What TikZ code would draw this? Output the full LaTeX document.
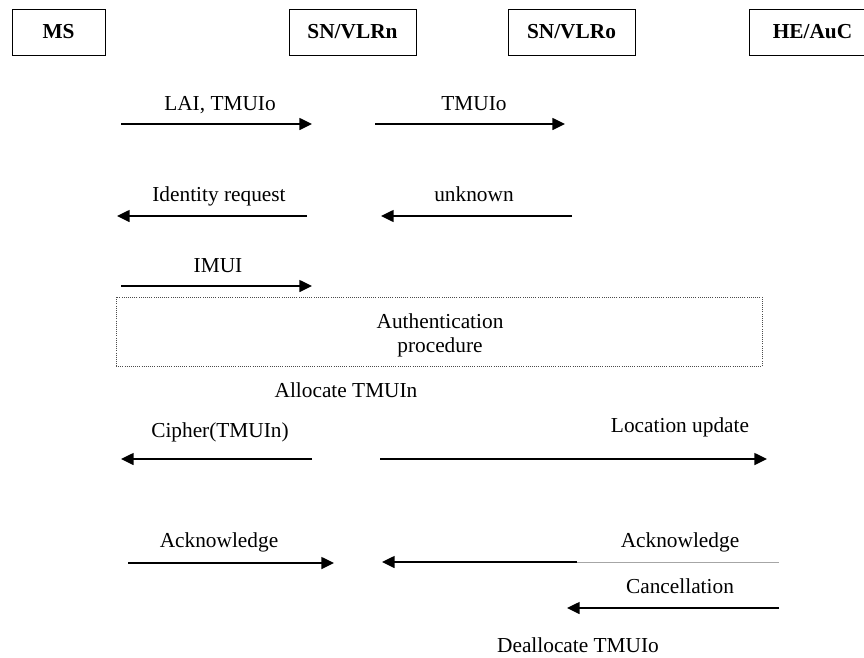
\documentclass[tikz,border=0pt]{standalone}
\usepackage{fontspec}
\setmainfont{Liberation Serif}
\usetikzlibrary{arrows.meta}
\begin{document}
\begin{tikzpicture}[x=0.75pt,y=-0.75pt,
  ent/.style={draw,line width=0.75pt,minimum height=34.5pt,inner sep=0pt,
    font=\fontsize{16}{19}\selectfont\bfseries},
  lbl/.style={anchor=base,inner sep=0pt,font=\fontsize{16}{19}\selectfont},
  msg/.style={line width=1.1pt,-{Triangle[length=9.5pt,width=9pt]}},
  authbox/.style={draw=black!70,densely dotted,line width=0.6pt,inner sep=0pt}]
\useasboundingbox (0,0) rectangle (864,657);
\clip (0,0) rectangle (864,657);

% entities
\node[ent,minimum width=69.75pt] (ms)  at (58.5,32)  {MS};
\node[ent,minimum width=95.25pt] (vn)  at (352.5,32) {SN/VLRn};
\node[ent,minimum width=95.25pt] (vo)  at (571.5,32) {SN/VLRo};
\node[ent,minimum width=95.25pt] (he)  at (812.5,32) {HE/AuC};

% end points of the messages
\coordinate (a1s) at (121,124); \coordinate (a1e) at (312,124);
\coordinate (a2s) at (375,124); \coordinate (a2e) at (565,124);
\coordinate (a3s) at (307,216); \coordinate (a3e) at (117,216);
\coordinate (a4s) at (572,216); \coordinate (a4e) at (381,216);
\coordinate (a5s) at (121,286); \coordinate (a5e) at (312,286);
\coordinate (a6s) at (312,459); \coordinate (a6e) at (121,459);
\coordinate (a7s) at (380,459); \coordinate (a7e) at (767,459);
\coordinate (a8s) at (128,563); \coordinate (a8e) at (334,563);
\coordinate (a9s) at (779,562); \coordinate (a9m) at (577,562); \coordinate (a9e) at (382,562);
\coordinate (a10s) at (779,608); \coordinate (a10e) at (567,608);

% messages
\draw[msg] (a1s) -- (a1e);
\node[lbl] (l1) at (220,110) {LAI, TMUIo};
\draw[msg] (a2s) -- (a2e);
\node[lbl] (l2) at (474,110) {TMUIo};

\draw[msg] (a3s) -- (a3e);
\node[lbl] (l3) at (219,201) {Identity request};
\draw[msg] (a4s) -- (a4e);
\node[lbl] (l4) at (474,201) {unknown};

\draw[msg] (a5s) -- (a5e);
\node[lbl] (l5) at (218,272) {IMUI};

% authentication procedure
\node[authbox,minimum width=484.5pt,minimum height=51.75pt] (auth) at (439,331.5) {};
\node[inner sep=0pt,align=center,font=\fontsize{16}{18}\selectfont] (authtxt) at (440,335) {Authentication\\ procedure};

\node[lbl] (alloc) at (346,397) {Allocate TMUIn};

\draw[msg] (a6s) -- (a6e);
\node[lbl] (l6) at (220,437) {Cipher(TMUIn)};
\draw[msg] (a7s) -- (a7e);
\node[lbl] (l7) at (680,432) {Location update};

\draw[msg] (a8s) -- (a8e);
\node[lbl] (l8) at (219,547) {Acknowledge};
\draw[black!35,line width=0.7pt] (a9s) -- (a9m);
\draw[msg] (a9m) -- (a9e);
\node[lbl] (l9) at (680,547) {Acknowledge};

\draw[msg] (a10s) -- (a10e);
\node[lbl] (l10) at (680,593) {Cancellation};

\node[lbl] (dealloc) at (578,652) {Deallocate TMUIo};
\end{tikzpicture}
\end{document}
